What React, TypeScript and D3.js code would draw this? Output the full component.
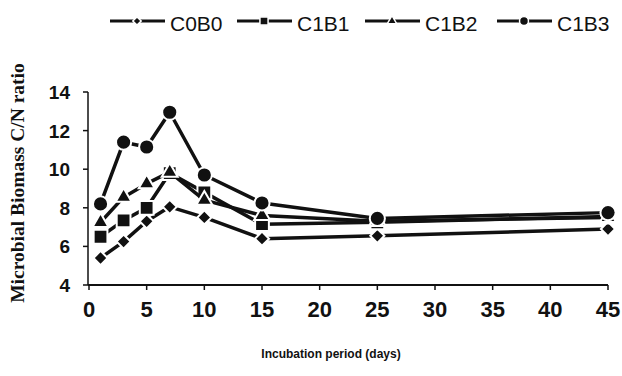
import * as d3 from 'd3'

// incubation days and C/N ratio per treatment
const days = [1, 3, 5, 7, 10, 15, 25, 45]
const c0b0 = [5.4, 6.25, 7.3, 8.05, 7.5, 6.4, 6.55, 6.9]
const c1b1 = [6.5, 7.35, 8.0, 9.8, 8.8, 7.15, 7.25, 7.55]
const c1b2 = [7.25, 8.55, 9.25, 9.85, 8.4, 7.6, 7.3, 7.5]
const c1b3 = [8.2, 11.4, 11.15, 12.95, 9.7, 8.25, 7.45, 7.75]

const seriesNames = ['C0B0', 'C1B1', 'C1B2', 'C1B3']
const seriesValues = [c0b0, c1b1, c1b2, c1b3]

const xTicks = [0, 5, 10, 15, 20, 25, 30, 35, 40, 45]
const yTicks = [4, 6, 8, 10, 12, 14]

type Shape = 'diamond' | 'square' | 'triangle' | 'circle'
const shapes: Shape[] = ['diamond', 'square', 'triangle', 'circle']

const W = 622
const H = 376
const left = 89
const right = 608
const top = 92
const bottom = 285

const x = d3.scaleLinear().domain([0, 45]).range([left, right])
const y = d3.scaleLinear().domain([4, 14]).range([bottom, top])

function markerPath(shape: Shape, scale = 1) {
  if (shape === 'circle') return d3.symbol(d3.symbolCircle, 180 * scale)()
  if (shape === 'square') return d3.symbol(d3.symbolSquare, 190 * scale)()
  if (shape === 'triangle') return d3.symbol(d3.symbolTriangle, 110 * scale)()
  return d3.symbol(d3.symbolSquare, 100 * scale)()
}

function Marker({ shape, cx, cy, scale = 1 }: { shape: Shape; cx: number; cy: number; scale?: number }) {
  const rot = shape === 'diamond' ? ' rotate(45)' : ''
  return (
    <path
      d={markerPath(shape, scale) || ''}
      transform={`translate(${cx},${cy})${rot}`}
      fill="#111"
      stroke="#fff"
      strokeWidth={scale < 1 ? 1.5 : 2}
    />
  )
}

const line = d3
  .line<number>()
  .x((_, i) => x(days[i]))
  .y((d) => y(d))

const legendX = [110, 237, 365, 497]

export default function App() {
  return (
    <svg
      width={W}
      height={H}
      style={{ position: 'absolute', left: 0, top: 0, background: '#fff' }}
      fontFamily="'Liberation Sans', Arial, sans-serif"
    >
      <rect width={W} height={H} fill="#fff" />

      {/* legend */}
      {seriesNames.map((name, i) => (
        <g key={name} transform={`translate(${legendX[i]},21)`}>
          <line x1={0} x2={55} y1={0} y2={0} stroke="#111" strokeWidth={3} />
          <Marker shape={shapes[i]} cx={27} cy={0} scale={0.35} />
          <text x={60} y={10} fontSize={21} fill="#111">
            {name}
          </text>
        </g>
      ))}

      {/* axes */}
      <line x1={left - 1} x2={left - 1} y1={top} y2={bottom} stroke="#111" strokeWidth={1.5} />
      <line x1={left - 1} x2={right} y1={bottom} y2={bottom} stroke="#111" strokeWidth={2} />
      {yTicks.map((t) => (
        <g key={t}>
          <line x1={left - 6} x2={left - 1} y1={y(t)} y2={y(t)} stroke="#111" strokeWidth={1.5} />
          <text x={70} y={y(t) + 7} textAnchor="end" fontSize={19} fontWeight="bold" fill="#111">
            {t}
          </text>
        </g>
      ))}
      {xTicks.map((t) => (
        <g key={t}>
          <line x1={x(t)} x2={x(t)} y1={bottom} y2={bottom + 5} stroke="#111" strokeWidth={1.5} />
          <text x={x(t)} y={317} textAnchor="middle" fontSize={22} fontWeight="bold" fill="#111">
            {t}
          </text>
        </g>
      ))}

      <text
        transform="translate(24,183) rotate(-90)"
        textAnchor="middle"
        fontSize={19.5}
        fontWeight="bold"
        fontFamily="'Liberation Serif', 'Times New Roman', serif"
        fill="#111"
      >
        Microbial Biomass C/N ratio
      </text>
      <text x={331} y={358} textAnchor="middle" fontSize={12} fontWeight="bold" fill="#111">
        Incubation period (days)
      </text>

      {/* series */}
      {seriesValues.map((vals, s) => (
        <g key={seriesNames[s]}>
          <path d={line(vals) || ''} fill="none" stroke="#111" strokeWidth={3.5} strokeLinejoin="round" />
          {vals.map((v, i) => (
            <Marker key={i} shape={shapes[s]} cx={x(days[i])} cy={y(v)} />
          ))}
        </g>
      ))}
    </svg>
  )
}
